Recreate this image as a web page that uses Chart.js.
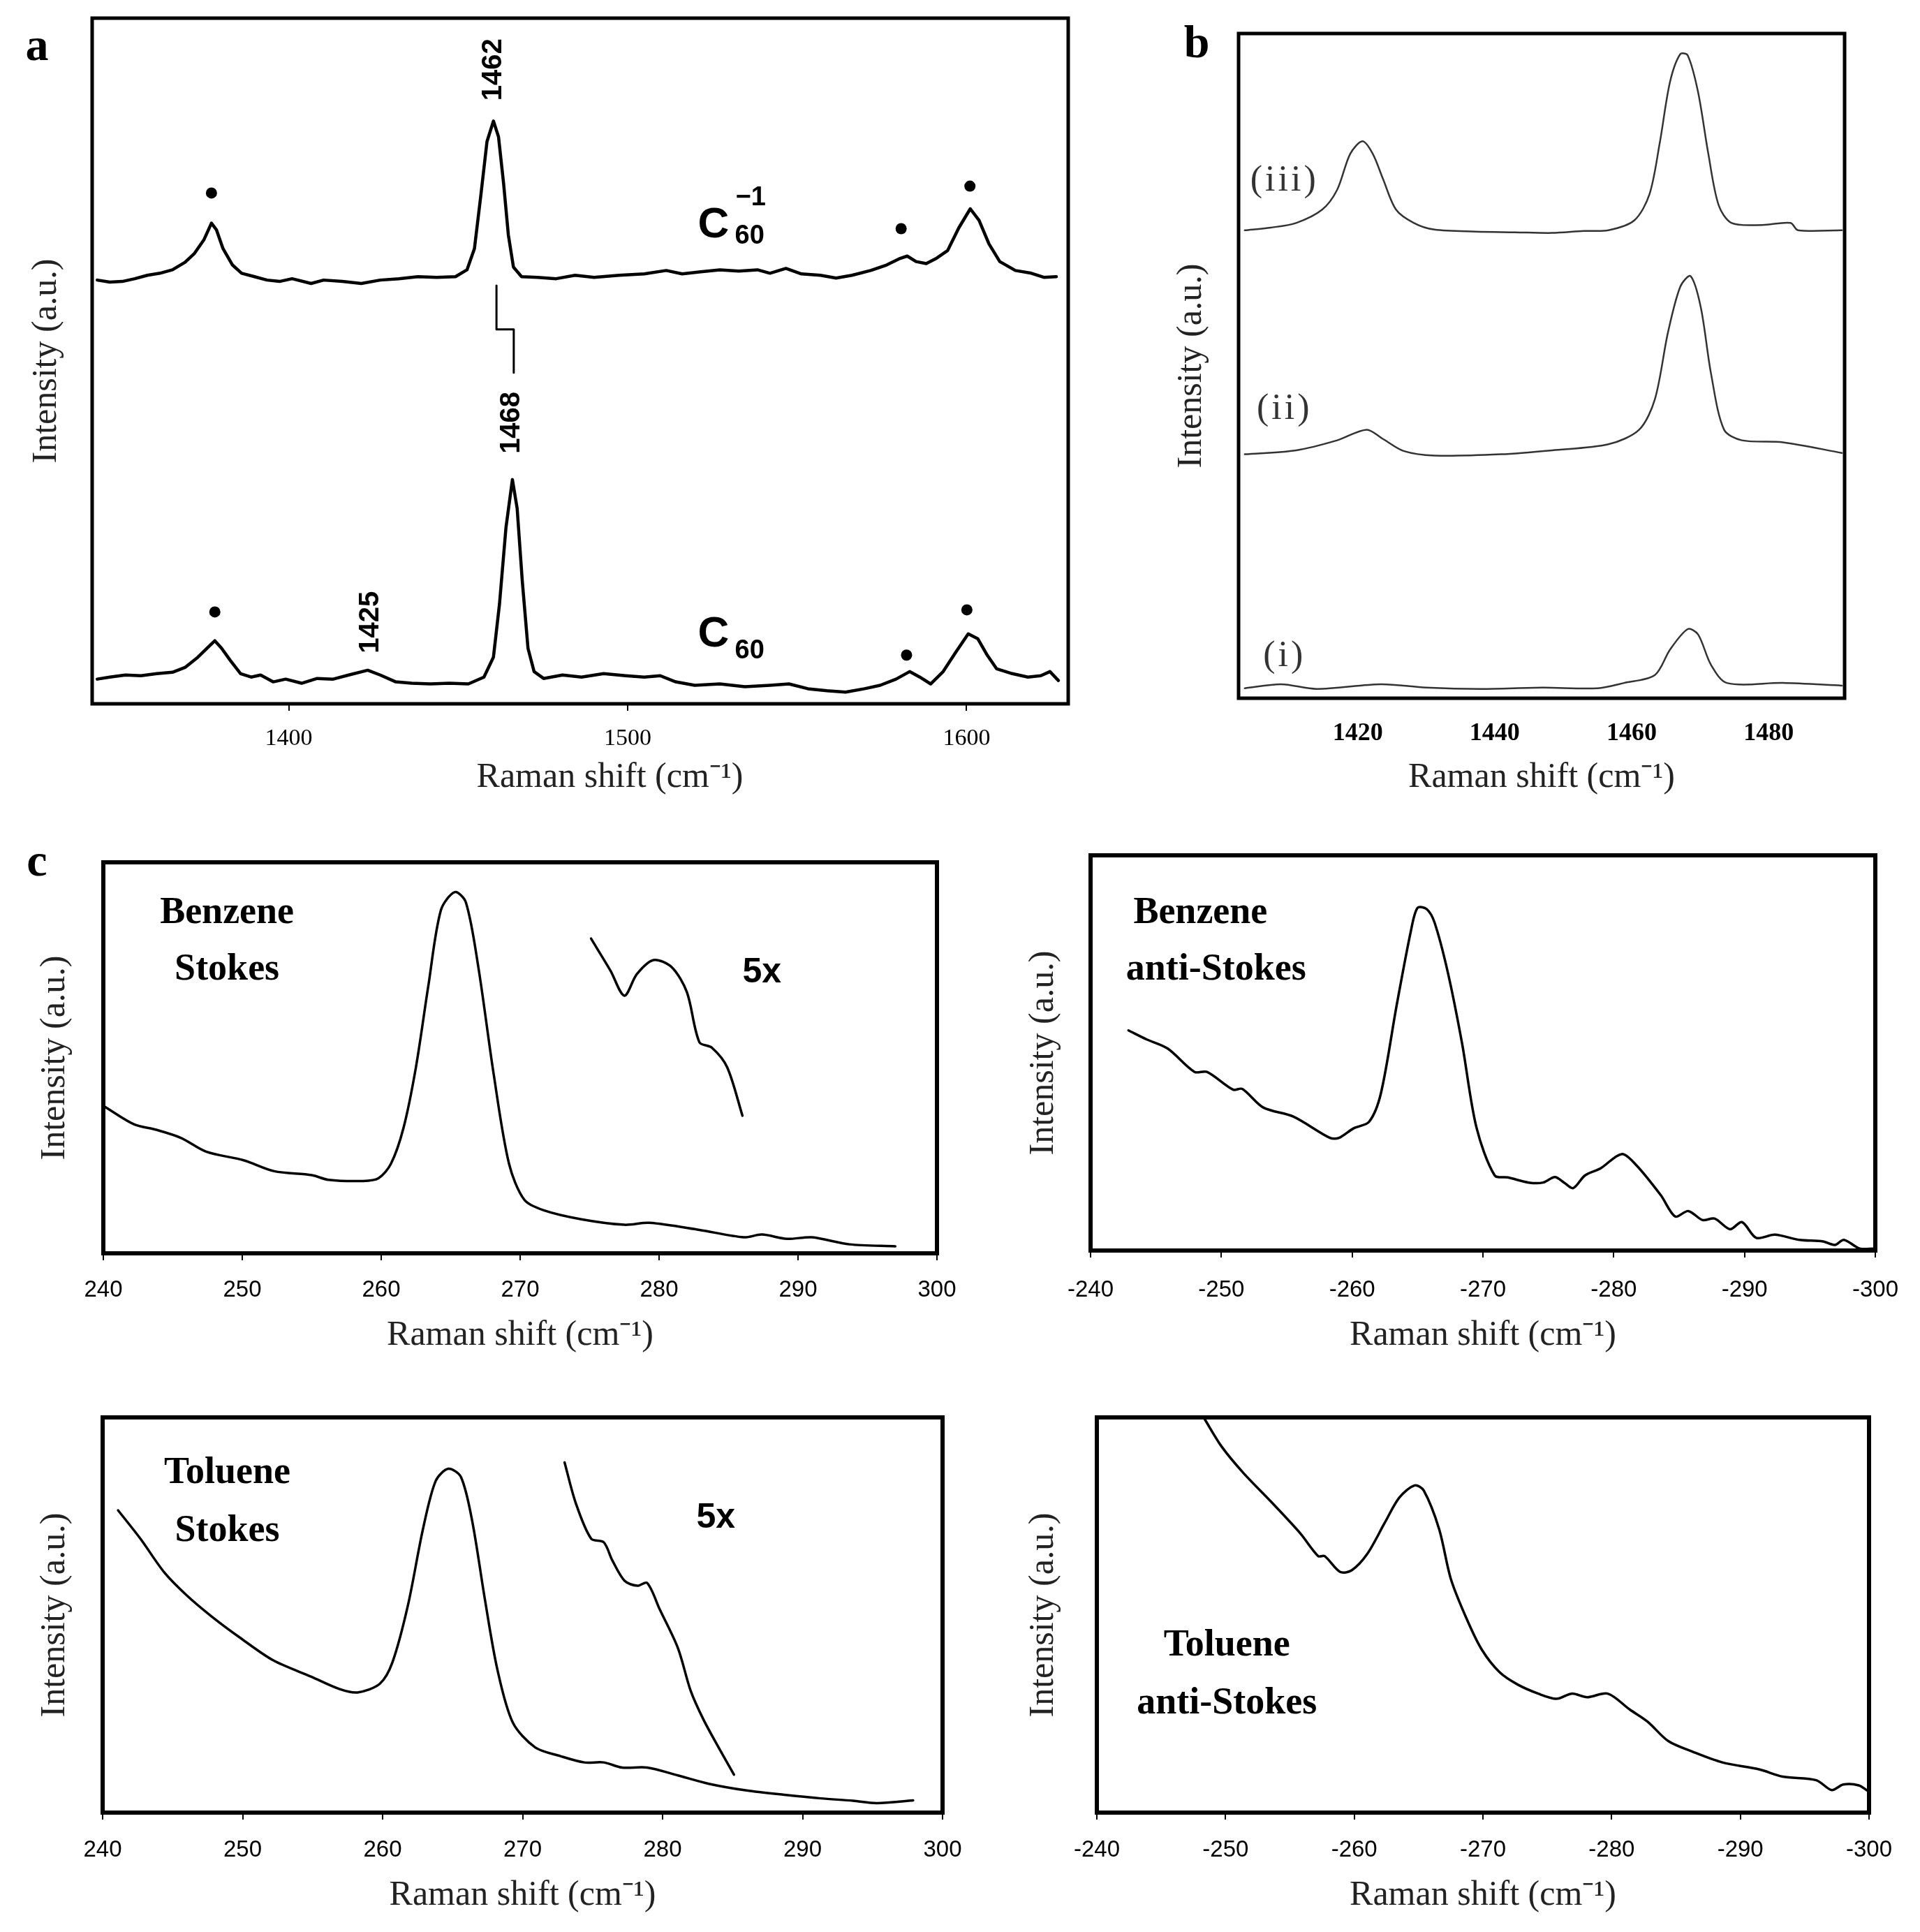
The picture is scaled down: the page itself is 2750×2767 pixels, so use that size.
<!DOCTYPE html>
<html>
<head>
<meta charset="utf-8">
<script src="https://cdn.jsdelivr.net/npm/chart.js@4.4.1/dist/chart.umd.min.js"></script>
<style>
  html, body { margin: 0; padding: 0; background: #fff; }
  #fig { position: relative; width: 2750px; height: 2767px; overflow: hidden; background: #fff; }
  .letter { position: absolute; font: bold 66px 'Liberation Serif', serif; line-height: 1; transform: translate(-50%, -50%); }
</style>
</head>
<body>
<div id="fig">
  <div class="letter" style="left:53px;top:64px">a</div>
  <div class="letter" style="left:1714px;top:60px">b</div>
  <div class="letter" style="left:53px;top:1232px">c</div>
</div>
<script>
// ---- panel a : C60 and C60(-1), intensity as % of frame height ----
const aTicks = [1400, 1500, 1600];
const aTopX = [1343.5,1347.2,1350.9,1354.6,1358.3,1362.0,1365.7,1369.4,1372.2,1375.0,1377.2,1378.7,1380.6,1383.4,1386.1,1389.9,1393.6,1397.3,1401.0,1406.6,1410.3,1415.8,1421.4,1427.0,1432.5,1438.1,1443.7,1449.2,1452.6,1454.8,1456.7,1458.5,1460.4,1461.9,1463.4,1464.8,1466.3,1468.7,1473.4,1478.9,1484.5,1490.1,1497.5,1504.9,1511.4,1516.1,1521.6,1527.2,1532.8,1538.3,1542.0,1546.7,1551.3,1556.9,1561.5,1566.2,1571.7,1576.4,1580.1,1582.5,1585.1,1588.1,1591.2,1594.4,1597.7,1601.1,1603.7,1606.6,1609.8,1614.4,1619.1,1622.8,1626.5];
const aTopY = [61.8,61.5,61.6,62.0,62.5,62.8,63.3,64.4,65.7,67.7,70.1,69.1,66.4,64.0,62.8,62.3,61.8,61.6,62.0,61.3,61.8,61.6,61.3,61.8,62.0,62.3,62.2,62.3,63.3,66.4,74.2,82.0,85.0,82.7,75.9,68.4,63.7,62.3,62.2,62.0,62.5,62.2,62.5,62.7,63.2,62.7,63.0,63.3,63.1,63.3,62.8,63.5,62.7,62.5,62.1,62.5,63.2,64.0,64.9,65.3,64.5,64.2,65.0,66.1,69.4,72.2,70.5,67.1,64.5,63.2,62.8,62.2,62.3];
const aBotX = [1343.5,1347.2,1351.8,1356.4,1361.1,1365.7,1369.4,1373.2,1375.9,1378.2,1380.2,1382.8,1385.8,1388.9,1391.7,1395.4,1399.1,1403.8,1408.4,1413.1,1417.7,1423.3,1427.0,1431.6,1436.3,1441.8,1447.4,1453.0,1457.6,1460.4,1462.2,1464.1,1466.0,1467.4,1468.9,1470.6,1472.4,1475.2,1480.8,1486.4,1492.9,1499.4,1504.9,1509.6,1514.2,1519.8,1527.2,1534.6,1542.0,1547.6,1553.2,1558.8,1564.3,1569.9,1574.5,1579.2,1583.2,1586.2,1589.4,1593.1,1596.8,1600.5,1603.3,1606.1,1608.9,1613.5,1618.1,1621.9,1624.6,1627.1];
const aBotY = [3.6,3.9,4.2,4.1,4.4,4.6,5.3,6.8,8.1,9.2,8.1,6.3,4.4,3.9,4.2,3.2,3.6,3.0,3.7,3.6,4.2,4.9,4.2,3.2,3.0,2.9,3.0,2.9,3.9,6.8,14.6,25.7,32.7,28.5,18.0,8.1,4.7,3.7,4.2,3.9,4.4,4.1,3.9,4.1,3.2,2.7,2.9,2.5,2.7,2.9,2.2,1.9,1.7,2.2,2.7,3.6,4.7,3.9,2.9,4.7,7.5,10.2,9.5,7.1,5.1,4.4,3.9,4.1,4.7,3.4];
const aDotX = [1377.2, 1580.7, 1601.0, 1378.2, 1582.3, 1600.1];
const aDotY = [74.5, 69.3, 75.5, 13.4, 7.1, 13.7];
const aShiftX = [1461.3, 1461.3, 1466.4, 1466.4];
const aShiftY = [61.0, 54.6, 54.6, 48.3];

// ---- panel b : three spectra (i)-(iii) ----
const bTicks = [1420, 1440, 1460, 1480];
const bIiiX = [1403.5,1407.3,1411,1414.8,1417,1418.9,1420.7,1422.2,1423.7,1425.6,1428.2,1431.2,1437.2,1443,1448.4,1453,1456.6,1460.4,1462.6,1464.1,1465.6,1467.1,1468.2,1469.7,1471.2,1472.7,1474.6,1479.1,1483.2,1484.3,1490.7];
const bIiiY = [70.4,70.8,71.5,73.5,76.5,81.9,83.8,81.9,78.1,73.5,71.5,70.5,70.2,70.1,70.0,70.3,70.4,71.9,75.8,83.5,92.7,96.9,96.7,91.2,81.9,74.2,71.5,71.2,71.5,70.4,70.4];
const bIiX = [1403.5,1411,1417,1421.3,1423.7,1426.7,1431.2,1440.9,1448.4,1456.6,1461.1,1463.4,1465.3,1467.1,1468.6,1470.1,1471.6,1473.5,1476.1,1482.1,1490.7];
const bIiY = [36.7,37.3,38.8,40.4,39.0,37.2,36.5,36.7,37.3,38.2,40.4,45.0,55.0,61.9,63.5,58.8,48.8,40.4,38.8,38.5,36.9];
const bIX = [1403.5,1408.8,1414,1423.4,1430,1438,1447,1455,1458.9,1463.4,1465.6,1468.2,1469.7,1471.6,1473.9,1482.1,1490.7];
const bIY = [1.5,2.1,1.4,2.1,1.6,1.4,1.6,1.5,2.3,3.5,7.3,10.4,9.6,5.0,2.3,2.3,1.9];

// ---- panel c : benzene / toluene, Stokes and anti-Stokes ----
const cStokesTicks = [240, 250, 260, 270, 280, 290, 300];
const cAntiTicks = [-240, -250, -260, -270, -280, -290, -300];
const c1X = [240.1,242.2,243.8,245.6,247.4,250.1,252.3,255,256.2,258.7,259.8,260.7,261.6,262.5,263.4,264.3,265.3,266.1,267,268.1,269.2,270.3,271.7,274.4,277.5,279.3,282.9,286.1,287.4,289.2,291,293.7,297];
const c1Y = [37.5,33,31.6,29.5,26,23.8,21,20,18.8,18.5,19.2,22.9,32,47.6,68.6,87.8,92.4,89.7,73,45.7,22.9,13.7,11,8.7,7.3,7.8,6,4.1,4.8,3.7,4.1,2.3,1.8];
const c1InsetX = [275.1,276.5,277.5,278.4,279.6,280.9,282,282.9,283.8,284.9,286];
const c1InsetY = [80.5,72.3,65.9,71.4,75,73.2,66.8,54,52.6,47.6,35.2];
const c2X = [-242.9,-244.3,-245.9,-247.95,-248.9,-250.9,-251.6,-253.2,-255.5,-258.3,-259,-260.1,-261.3,-262.2,-263.4,-264.5,-265,-265.7,-266.3,-267.3,-268.4,-269.5,-270.9,-271.9,-273.5,-274.6,-275.5,-276.2,-276.9,-277.8,-279,-280.6,-281.7,-283.6,-284.7,-285.7,-286.8,-287.7,-288.9,-289.8,-290.9,-292.3,-294.2,-296,-296.9,-297.6,-298.8,-299.9];
const c2Y = [55.7,53.4,51.1,45.2,45.2,40.7,40.9,36.2,33.9,28.5,28.5,30.9,32.6,39.8,62,81,86.7,86.4,83,70.6,52.5,31.2,19,18.5,17.2,17.2,18.6,17.2,15.8,19,20.8,24.4,21.7,14,8.6,10,7.7,8.1,5.4,7.2,3.2,4,2.7,2.3,1.4,2.7,0.5,0.5];
const c3X = [241.1,242.7,244.4,246,247.8,249.8,252.2,254.9,256.9,258.2,259.8,260.7,261.8,262.9,263.8,264.7,265.6,266.4,267.3,268.2,269.3,270.9,272.7,274.4,275.8,277.1,278.9,281.1,283.3,286,288.7,291.3,293.6,295.3,297.9];
const c3Y = [76.5,69.3,60.8,55,49.6,44.3,38.5,34.4,31.3,30.4,32.6,38,52.3,72,84,87,84.9,73.8,54.1,36.2,22.8,16.5,14.3,12.7,12.7,11.4,11.4,9.4,7.3,5.6,4.5,3.6,3,2.4,3.1];
const c3InsetX = [273,273.8,274.9,275.8,276.4,277.3,278.2,278.9,279.8,281.1,282,282.9,284,285.1];
const c3InsetY = [88.6,78.3,69.3,68.4,63.9,58.6,57.4,58.1,51.4,41.6,30.9,23.7,16.5,9.6];
const c4X = [-248.3,-249.7,-251.4,-253.5,-255.8,-257.2,-257.7,-258.9,-259.8,-261,-262.4,-263.5,-264.7,-265.4,-266.6,-267.5,-268.7,-269.9,-271.3,-272.7,-274.3,-275.7,-276.9,-278.1,-279.7,-281.4,-282.8,-284.4,-286.3,-288.6,-291.5,-293.3,-295.9,-297.1,-298,-299.2,-299.9];
const c4Y = [100,92.6,85.9,78.8,70.7,64.9,64.9,60.9,61.3,65.4,73.5,79.7,82.8,81.5,71.7,59.2,49.3,41.3,35.5,32.4,30.1,28.8,30.1,29.2,30.1,26.1,23,18.1,15.4,12.7,10.9,9.1,8.2,5.7,7.1,6.9,5.5];

const SERIF = "'Liberation Serif', 'Times New Roman', serif";
const SANS = "'Liberation Sans', Arial, sans-serif";
const XTITLE = 'Raman shift (cm\u207B\u00B9)';
const YTITLE = 'Intensity (a.u.)';

Chart.defaults.color = '#000';

const pts = (xs, ys) => xs.map((x, i) => ({ x, y: ys[i] }));

function trace(xs, ys, width, extra) {
  return Object.assign({
    data: pts(xs, ys), borderColor: '#000', borderWidth: width,
    pointRadius: 0, tension: 0, fill: false, borderJoinStyle: 'round', borderCapStyle: 'round'
  }, extra || {});
}

// frame round the plot area
function framePlugin(w) {
  return {
    id: 'frame',
    afterDatasetsDraw(chart) {
      const { ctx, chartArea: a } = chart;
      ctx.save();
      ctx.lineWidth = w;
      ctx.strokeStyle = '#000';
      ctx.strokeRect(a.left, a.top, a.right - a.left, a.bottom - a.top);
      ctx.restore();
    }
  };
}

// text notes placed in data coordinates
function notesPlugin(items) {
  return {
    id: 'notes',
    afterDraw(chart) {
      const { ctx, scales } = chart;
      items.forEach(n => {
        ctx.save();
        ctx.font = n.font;
        ctx.fillStyle = n.color || '#000';
        ctx.textAlign = 'center';
        ctx.textBaseline = 'middle';
        if (n.spacing && 'letterSpacing' in ctx) ctx.letterSpacing = n.spacing;
        ctx.translate(scales.x.getPixelForValue(n.x), scales.y.getPixelForValue(n.y));
        if (n.rot) ctx.rotate(n.rot);
        ctx.fillText(n.text, 0, 0);
        ctx.restore();
      });
    }
  };
}

function makePanel(p) {
  const padT = 8, padR = 44;
  const yW = p.box.l - p.left;
  const xH = p.titleY + p.titleSize / 2 - p.box.b;
  const w = p.box.r - p.left + padR;
  const h = p.box.b - p.box.t + padT + xH;
  const tickLH = 1.2;
  const tickPad = p.tickY - p.box.b - p.tickLen - p.tickFont.size * tickLH / 2;

  const canvas = document.createElement('canvas');
  canvas.width = w;
  canvas.height = h;
  canvas.style.cssText = `position:absolute;left:${p.left}px;top:${p.box.t - padT}px;width:${w}px;height:${h}px`;
  document.getElementById('fig').appendChild(canvas);

  new Chart(canvas, {
    type: 'line',
    data: { datasets: p.datasets },
    options: {
      responsive: false,
      animation: false,
      devicePixelRatio: 1,
      layout: { padding: { top: padT, right: padR, left: 0, bottom: 0 } },
      plugins: { legend: { display: false }, tooltip: { enabled: false } },
      scales: {
        x: {
          type: 'linear', min: p.xMin, max: p.xMax, reverse: !!p.reverse,
          // keep the frame where it is: no extra room for edge labels
          afterFit: s => { s.height = xH; s.paddingLeft = 0; s.paddingRight = 0; },
          afterBuildTicks: s => { s.ticks = p.ticks.map(v => ({ value: v })); },
          ticks: {
            font: Object.assign({ lineHeight: tickLH }, p.tickFont),
            color: '#000', padding: tickPad, maxRotation: 0, autoSkip: false,
            callback: v => String(v)
          },
          grid: {
            display: true, drawOnChartArea: false, drawTicks: p.tickLen > 0,
            tickLength: p.tickLen, color: '#000', lineWidth: 2
          },
          border: { display: false },
          title: {
            display: true, text: (p.titleLead || '') + XTITLE, color: '#222',
            font: { family: SERIF, size: p.titleSize, lineHeight: 1 },
            padding: { top: 0, bottom: 0 }
          }
        },
        y: {
          min: 0, max: 100,
          afterFit: s => { s.width = yW; s.paddingTop = 0; s.paddingBottom = 0; },
          ticks: { display: false },
          grid: { display: false },
          border: { display: false },
          title: {
            display: true, text: YTITLE, color: '#222',
            font: { family: SERIF, size: p.titleSize, lineHeight: 1 },
            padding: { top: p.yTitleX - p.left - p.titleSize / 2, bottom: 0 }
          }
        }
      }
    },
    plugins: [framePlugin(p.frame), notesPlugin(p.notes)]
  });
}

const ROT = -Math.PI / 2;
const aNoteFont = `bold 40px ${SANS}`;

// panel a (its axis title sits a little right of centre)
makePanel({
  box: { l: 132, t: 26, r: 1530, b: 1008 }, left: 0,
  xMin: 1342, xMax: 1630, ticks: aTicks, tickLen: 10,
  tickFont: { family: SERIF, size: 34 }, tickY: 1058,
  titleSize: 50, titleY: 1114, yTitleX: 67, frame: 5,
  titleLead: '\u2003\u2002\u2009',
  datasets: [
    trace(aTopX, aTopY, 4.5),
    trace(aBotX, aBotY, 4.5),
    trace(aShiftX, aShiftY, 3),
    { data: pts(aDotX, aDotY), showLine: false, pointRadius: 8, pointBackgroundColor: '#000', pointBorderWidth: 0 }
  ],
  notes: [
    { x: 1460.4, y: 92.5, text: '1462', font: aNoteFont, rot: ROT },
    { x: 1465.8, y: 41.0, text: '1468', font: aNoteFont, rot: ROT },
    { x: 1424.2, y: 11.9, text: '1425', font: aNoteFont, rot: ROT },
    { x: 1525.3, y: 69.8, text: 'C', font: `bold 62px ${SANS}` },
    { x: 1536.3, y: 73.8, text: '\u22121', font: `bold 38px ${SANS}` },
    { x: 1536.0, y: 68.2, text: '60', font: `bold 38px ${SANS}` },
    { x: 1525.3, y: 10.1, text: 'C', font: `bold 62px ${SANS}` },
    { x: 1536.0, y: 7.7, text: '60', font: `bold 38px ${SANS}` }
  ]
});

// panel b
const bNoteFont = `52px ${SERIF}`;
makePanel({
  box: { l: 1774, t: 48, r: 2642, b: 1000 }, left: 1674,
  xMin: 1402.6, xMax: 1491.1, ticks: bTicks, tickLen: 0,
  tickFont: { family: SERIF, size: 36, weight: 'bold' }, tickY: 1051,
  titleSize: 50, titleY: 1114, yTitleX: 1707, frame: 5,
  datasets: [
    trace(bIiiX, bIiiY, 2.5, { borderColor: '#333', tension: 0.3 }),
    trace(bIiX, bIiY, 2.5, { borderColor: '#333', tension: 0.3 }),
    trace(bIX, bIY, 2.5, { borderColor: '#333', tension: 0.3 })
  ],
  notes: [
    { x: 1409.3, y: 77.8, text: '(iii)', font: bNoteFont, spacing: '4px', color: '#333' },
    { x: 1409.3, y: 43.4, text: '(ii)', font: bNoteFont, spacing: '4px', color: '#333' },
    { x: 1409.3, y: 6.3, text: '(i)', font: bNoteFont, spacing: '4px', color: '#333' }
  ]
});

const cLabel = `bold 54px ${SERIF}`;
const cFive = `bold 50px ${SANS}`;
const cTick = { family: SANS, size: 33 };

// benzene Stokes
makePanel({
  box: { l: 148, t: 1235, r: 1342, b: 1795 }, left: 0,
  xMin: 240, xMax: 300, ticks: cStokesTicks, tickLen: 10,
  tickFont: cTick, tickY: 1848,
  titleSize: 50, titleY: 1913, yTitleX: 79, frame: 6,
  datasets: [trace(c1X, c1Y, 3.5, { tension: 0.3 }), trace(c1InsetX, c1InsetY, 3.5, { tension: 0.3 })],
  notes: [
    { x: 248.9, y: 87.0, text: 'Benzene', font: cLabel },
    { x: 248.9, y: 72.5, text: 'Stokes', font: cLabel },
    { x: 287.4, y: 71.8, text: '5x', font: cFive }
  ]
});

// benzene anti-Stokes
makePanel({
  box: { l: 1562, t: 1225, r: 2686, b: 1791 }, left: 1442,
  xMin: -300, xMax: -240, reverse: true, ticks: cAntiTicks, tickLen: 10,
  tickFont: cTick, tickY: 1848,
  titleSize: 50, titleY: 1913, yTitleX: 1495, frame: 6,
  datasets: [trace(c2X, c2Y, 3.5, { tension: 0.3 })],
  notes: [
    { x: -248.4, y: 85.3, text: 'Benzene', font: cLabel },
    { x: -249.6, y: 71.0, text: 'anti-Stokes', font: cLabel }
  ]
});

// toluene Stokes
makePanel({
  box: { l: 147, t: 2030, r: 1350, b: 2596 }, left: 0,
  xMin: 240, xMax: 300, ticks: cStokesTicks, tickLen: 10,
  tickFont: cTick, tickY: 2650,
  titleSize: 50, titleY: 2715, yTitleX: 79, frame: 6,
  datasets: [trace(c3X, c3Y, 3.5, { tension: 0.3 }), trace(c3InsetX, c3InsetY, 3.5, { tension: 0.3 })],
  notes: [
    { x: 248.9, y: 85.9, text: 'Toluene', font: cLabel },
    { x: 248.9, y: 71.2, text: 'Stokes', font: cLabel },
    { x: 283.8, y: 74.6, text: '5x', font: cFive }
  ]
});

// toluene anti-Stokes
makePanel({
  box: { l: 1571, t: 2030, r: 2677, b: 2596 }, left: 1442,
  xMin: -300, xMax: -240, reverse: true, ticks: cAntiTicks, tickLen: 10,
  tickFont: cTick, tickY: 2650,
  titleSize: 50, titleY: 2715, yTitleX: 1495, frame: 6,
  datasets: [trace(c4X, c4Y, 3.5, { tension: 0.3 })],
  notes: [
    { x: -250.1, y: 42.2, text: 'Toluene', font: cLabel },
    { x: -250.1, y: 27.6, text: 'anti-Stokes', font: cLabel }
  ]
});
</script>
</body>
</html>
